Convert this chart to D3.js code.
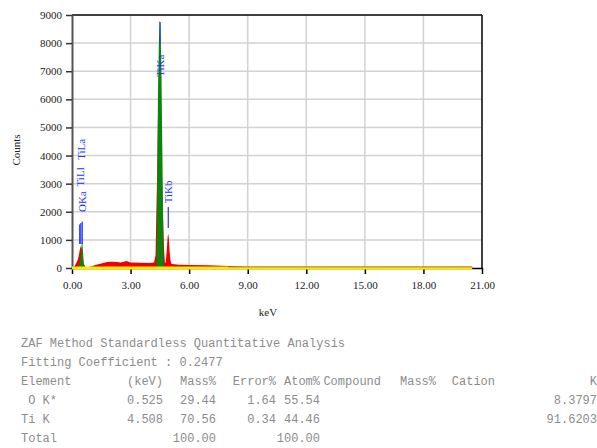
<!DOCTYPE html>
<html>
<head>
<meta charset="utf-8">
<script src="https://cdn.jsdelivr.net/npm/d3@7"></script>
<style>
  body { margin: 0; background: #fff; }
</style>
</head>
<body>
<script>
// measured spectrum (keV, counts)
var specKeV = [0.00, 0.10, 0.20, 0.30, 0.35, 0.40, 0.45, 0.50, 0.55, 0.60, 0.70, 0.80, 1.00, 1.20, 1.50, 1.80, 2.00, 2.30, 2.50, 2.70, 2.80, 3.00, 3.50, 4.00, 4.20, 4.28, 4.32, 4.36, 4.40, 4.45, 4.50, 4.55, 4.60, 4.64, 4.68, 4.72, 4.76, 4.80, 4.85, 4.90, 4.93, 4.97, 5.00, 5.05, 5.10, 5.50, 6.00, 7.00, 8.00, 8.50, 9.00, 10.0, 12.0, 15.0, 18.0, 20.5, 20.6];
var specCounts = [0, 40, 150, 300, 450, 650, 780, 700, 400, 150, 40, 30, 60, 110, 160, 210, 220, 210, 200, 230, 250, 200, 190, 180, 200, 450, 2000, 3300, 5200, 7000, 7800, 6000, 3500, 2500, 1400, 600, 180, 200, 600, 1100, 1220, 1000, 600, 250, 140, 120, 110, 95, 75, 50, 35, 30, 25, 20, 15, 10, 0];

// fitted peaks (green)
var fitOKeV = [0.30, 0.40, 0.46, 0.50, 0.53, 0.56, 0.60, 0.62];
var fitOCounts = [0, 150, 500, 880, 920, 600, 150, 0];
var fitTiKeV = [4.33, 4.36, 4.40, 4.45, 4.49, 4.53, 4.58, 4.63, 4.67, 4.70];
var fitTiCounts = [0, 2500, 6000, 8000, 8800, 8700, 7000, 4000, 1500, 0];

var baseKeV = [0, 20.5];

var xTicks = [0, 3, 6, 9, 12, 15, 18, 21];
var yTicks = [0, 1000, 2000, 3000, 4000, 5000, 6000, 7000, 8000, 9000];

// peak markers: label, energy, text start (counts), line from/to (counts)
var peakNames = ["TiLl", "TiLa", "OKa", "TiKa", "TiKb"];
var peakKeV = [0.395, 0.452, 0.525, 4.508, 4.931];
var peakTextAt = [2900, 3850, 1990, 6800, 2300];
var peakLineLo = [850, 850, 850, 7950, 1420];
var peakLineHi = [1550, 1600, 1650, 8750, 2170];

// results table: column text and right edge (px) of each column
var tableHead = ["ZAF Method Standardless Quantitative Analysis", "Fitting Coefficient : 0.2477"];
var colNames = ["Element", "(keV)", "Mass%", "Error%", "Atom%", "Compound", "Mass%", "Cation", "K"];
var colRight = [71, 163, 216, 276, 320, 381, 436, 495, 597];
var rowO = [" O K*", "0.525", "29.44", "1.64", "55.54", "", "", "", "8.3797"];
var rowTi = ["Ti K", "4.508", "70.56", "0.34", "44.46", "", "", "", "91.6203"];
var rowTotal = ["Total", "", "100.00", "", "100.00", "", "", "", ""];

var W = 597, H = 448;
var svg = d3.select("body").append("svg").attr("width", W).attr("height", H)
  .style("font-family", "'Liberation Serif', serif");

var x = d3.scaleLinear().domain([0, 21]).range([72, 482]);
var y = d3.scaleLinear().domain([0, 9000]).range([268, 15]);

// grid
svg.append("g").selectAll("line").data(xTicks.slice(1, -1)).enter().append("line")
  .attr("x1", function(d) { return x(d); }).attr("x2", function(d) { return x(d); })
  .attr("y1", y(9000)).attr("y2", y(0))
  .attr("stroke", "#d2d2d2").attr("stroke-width", 1.5);
svg.append("g").selectAll("line").data(yTicks.slice(1, -1)).enter().append("line")
  .attr("x1", x(0)).attr("x2", x(21))
  .attr("y1", function(d) { return y(d); }).attr("y2", function(d) { return y(d); })
  .attr("stroke", "#d2d2d2").attr("stroke-width", 1.5);

// frame top / right
svg.append("line").attr("x1", x(0)).attr("x2", x(21)).attr("y1", y(9000)).attr("y2", y(9000))
  .attr("stroke", "#000").attr("stroke-width", 1.5);
svg.append("line").attr("x1", x(21)).attr("x2", x(21)).attr("y1", y(9000)).attr("y2", y(0))
  .attr("stroke", "#000").attr("stroke-width", 1.5);

// axes
var xAxis = svg.append("g").attr("transform", "translate(0," + y(0) + ")")
  .call(d3.axisBottom(x).tickValues(xTicks).tickFormat(d3.format(".2f")).tickSize(6).tickSizeOuter(0));
xAxis.select(".domain").attr("stroke", "#000").attr("stroke-width", 1.5);
xAxis.selectAll(".tick line").attr("stroke", "#000").attr("stroke-width", 1.5);
xAxis.selectAll("text").attr("font-family", "Liberation Serif").attr("font-size", 11).attr("fill", "#222").attr("dy", "1.1em");

var yAxis = svg.append("g").attr("transform", "translate(" + x(0) + ",0)")
  .call(d3.axisLeft(y).tickValues(yTicks).tickSize(6).tickSizeOuter(0).tickFormat(d3.format("d")));
yAxis.select(".domain").attr("stroke", "#555").attr("stroke-width", 2);
yAxis.selectAll(".tick line").attr("stroke", "#333").attr("stroke-width", 1.5);
yAxis.selectAll("text").attr("font-family", "Liberation Serif").attr("font-size", 11).attr("fill", "#222").attr("x", -10);

// spectrum
var area = d3.area().x(function(d) { return x(d[0]); }).y0(y(0)).y1(function(d) { return y(d[1]); });
svg.append("path").datum(d3.zip(specKeV, specCounts)).attr("d", area).attr("fill", "#ee0000");
svg.append("path").datum(d3.zip(fitOKeV, fitOCounts)).attr("d", area).attr("fill", "#0a840a");
svg.append("path").datum(d3.zip(fitTiKeV, fitTiCounts)).attr("d", area).attr("fill", "#0a840a");

// baseline
var line = d3.line().x(function(d) { return x(d[0]); }).y(function(d) { return y(d[1]); });
svg.append("path").datum(baseKeV.map(function(k) { return [k, 0]; })).attr("d", line)
  .attr("stroke", "#f5ee00").attr("stroke-width", 3).attr("fill", "none");
svg.append("path").datum([[8, 40], [20.5, 40]]).attr("d", line)
  .attr("stroke", "#a03020").attr("stroke-width", 0.7).attr("fill", "none");

// peak markers
peakNames.forEach(function(n, i) {
  var px = x(peakKeV[i]);
  svg.append("line").attr("x1", px).attr("x2", px)
    .attr("y1", y(peakLineLo[i])).attr("y2", y(peakLineHi[i]))
    .attr("stroke", "#2233ff").attr("stroke-width", 1.2);
  svg.append("text").attr("transform", "translate(" + (px + 4) + "," + y(peakTextAt[i]) + ") rotate(-90)")
    .attr("font-size", 11).attr("fill", "#2233ff").text(n);
});

// axis titles
svg.append("text").attr("transform", "translate(20,150) rotate(-90)").attr("text-anchor", "middle")
  .attr("font-size", 11).attr("fill", "#222").text("Counts");
svg.append("text").attr("x", 268).attr("y", 316).attr("text-anchor", "middle")
  .attr("font-size", 11).attr("fill", "#222").text("keV");

// results table
var tbl = svg.append("g").style("font-family", "'Liberation Mono', monospace")
  .attr("font-size", 12).attr("fill", "#8c8c8c");
tableHead.forEach(function(t, i) {
  tbl.append("text").attr("x", 21).attr("y", 347 + i * 19).text(t);
});
[colNames, rowO, rowTi, rowTotal].forEach(function(row, r) {
  row.forEach(function(cell, c) {
    if (!cell) return;
    tbl.append("text")
      .attr("x", c === 0 ? 21 : colRight[c])
      .attr("y", 385 + r * 19)
      .attr("text-anchor", c === 0 ? "start" : "end")
      .attr("xml:space", "preserve")
      .text(cell);
  });
});
</script>
</body>
</html>
